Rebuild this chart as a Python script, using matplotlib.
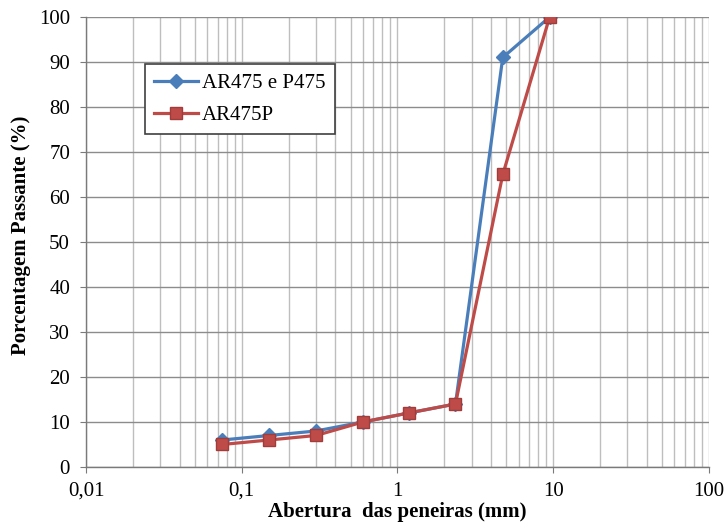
import matplotlib
matplotlib.use("Agg")
import matplotlib.pyplot as plt
from matplotlib.ticker import LogLocator, FixedLocator, FixedFormatter, NullFormatter

# Sieve openings (mm) and percent passing for each mix
abertura = [0.075, 0.15, 0.3, 0.6, 1.18, 2.36, 4.75, 9.5]
ar475_p475 = [6, 7, 8, 10, 12, 14, 91, 100]
ar475p = [5, 6, 7, 10, 12, 14, 65, 100]

x_ticks = [0.01, 0.1, 1, 10, 100]
x_tick_labels = ["0,01", "0,1", "1", "10", "100"]
y_ticks = list(range(0, 101, 10))

plt.rcParams["font.family"] = ["Liberation Serif", "DejaVu Serif"]

fig = plt.figure(figsize=(7.27, 5.24), dpi=100)
ax = fig.add_axes([0.1183, 0.1088, 0.975 - 0.1183, 0.9676 - 0.1088])

blue = "#4A7EBB"
red = "#BE4B48"

ax.plot(abertura, ar475_p475, color=blue, lw=2.3, marker="D", ms=7,
        mfc=blue, mec=blue, label="AR475 e P475", zorder=4)
ax.plot(abertura, ar475p, color=red, lw=2.3, marker="s", ms=9,
        mfc=red, mec="#A03C39", mew=1, label="AR475P", zorder=5)

ax.set_xscale("log")
ax.set_xlim(0.01, 100)
ax.set_ylim(0, 100)

ax.xaxis.set_major_locator(FixedLocator(x_ticks))
ax.xaxis.set_major_formatter(FixedFormatter(x_tick_labels))
ax.xaxis.set_minor_locator(LogLocator(base=10, subs=range(2, 10), numticks=50))
ax.xaxis.set_minor_formatter(NullFormatter())
ax.set_yticks(y_ticks)

ax.grid(True, which="major", axis="y", color="#8C8C8C", lw=1.0)
ax.grid(True, which="both", axis="x", color="#BEBEBE", lw=1.0)
ax.set_axisbelow(True)

for side in ["top", "right"]:
    ax.spines[side].set_visible(False)
for side in ["left", "bottom"]:
    ax.spines[side].set_color("#7A7A7A")
    ax.spines[side].set_linewidth(1.0)

ax.tick_params(axis="y", which="major", direction="out", length=4.5,
               color="#7A7A7A", labelsize=15, pad=7)
ax.tick_params(axis="x", which="major", direction="out", length=4.5,
               color="#7A7A7A", labelsize=15, pad=6)
ax.tick_params(axis="x", which="minor", length=0)

ax.set_xlabel("Abertura  das peneiras (mm)", fontsize=15, fontweight="bold", labelpad=1)
ax.set_ylabel("Porcentagem Passante (%)", fontsize=15, fontweight="bold")
ax.yaxis.set_label_coords(-0.088, 0.515)

leg = ax.legend(loc="upper left", bbox_to_anchor=(0.0947, 0.8956), borderaxespad=0,
                fontsize=15, frameon=True, fancybox=False, framealpha=1,
                edgecolor="#404040", handlelength=2.1, borderpad=0.45,
                labelspacing=0.6, handletextpad=0.2)
leg.get_frame().set_linewidth(1.2)

fig.savefig("out.png", dpi=100)
